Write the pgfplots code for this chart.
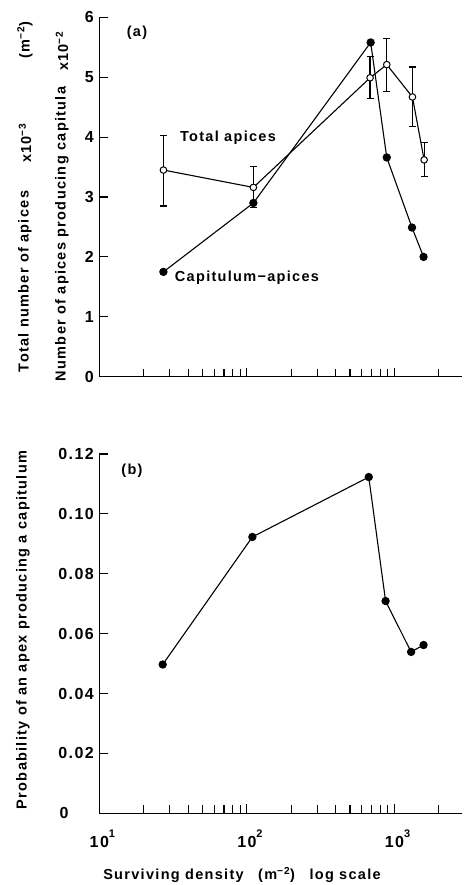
\documentclass[border=0pt]{standalone}
\usepackage{fontspec}
\setmainfont{Liberation Sans}[LetterSpace=9]
\usepackage{pgfplots}
\pgfplotsset{compat=1.18}
\newcommand{\mytf}{\fontsize{14.5}{17}\selectfont\bfseries}
\newcommand{\mynf}{\fontsize{16}{18}\selectfont\bfseries}
\newcommand{\ex}[1]{\raisebox{1.15ex}{\fontsize{11}{11}\selectfont #1}}
\begin{document}
\begin{tikzpicture}
\useasboundingbox (-99.3pt,376.7pt) rectangle (363.7pt,-508.3pt);
\begin{axis}[at={(0pt,0pt)}, anchor=south west,
  scale only axis, width=362.7pt, height=359.4pt,
  xmode=log, xmin=10, xmax=2870,
  axis x line=bottom, axis y line=left,
  axis line style={-, line width=1.3pt, black},
  tick align=inside, major tick length=9pt, minor tick length=8pt,
  tick style={black, line width=1.1pt},
  xtick={10,100,1000},
  minor xtick={20,30,40,50,60,70,80,90,200,300,400,500,600,700,800,900,2000},
  /pgf/number format/assume math mode=true,
  tick label style={font=\mynf},
  yticklabel shift=2pt,
  clip=false,
  ymin=0, ymax=6, ytick={0,1,2,3,4,5,6},
  xticklabels={,,},
]
\addplot[black, line width=1.1pt, mark=*, mark size=3.6pt, mark options={fill=black, solid}]
  coordinates {(27.2,1.75) (110.7,2.90) (690,5.58) (887,3.66) (1315,2.49) (1575,2.00)};
\addplot[black, line width=1.1pt, mark=*, mark size=3.3pt, mark options={fill=white, solid, line width=1pt},
  error bars/.cd, y dir=both, y explicit,
  error bar style={line width=1.2pt},
  error mark options={rotate=90, line width=1.2pt, mark size=3.5pt}]
  coordinates {
  (27.2,3.45) += (0,0.58) -= (0,0.60)
  (110.7,3.16) += (0,0.35) -= (0,0.34)
  (684,4.99) += (0,0.36) -= (0,0.34)
  (887,5.21) += (0,0.44) -= (0,0.45)
  (1324,4.67) += (0,0.50) -= (0,0.49)
  (1589,3.62) += (0,0.29) -= (0,0.28)
  };
\end{axis}
\begin{axis}[at={(0pt,-436.6pt)}, anchor=south west,
  scale only axis, width=362.7pt, height=359.3pt,
  xmode=log, xmin=10, xmax=2870,
  axis x line=bottom, axis y line=left,
  axis line style={-, line width=1.3pt, black},
  tick align=inside, major tick length=9pt, minor tick length=8pt,
  tick style={black, line width=1.1pt},
  xtick={10,100,1000},
  minor xtick={20,30,40,50,60,70,80,90,200,300,400,500,600,700,800,900,2000},
  /pgf/number format/assume math mode=true,
  tick label style={font=\mynf},
  yticklabel shift=2pt,
  clip=false,
  ymin=0, ymax=0.12, ytick={0,0.02,0.04,0.06,0.08,0.10,0.12},
  yticklabels={0\phantom{.00},0.02,0.04,0.06,0.08,0.10,0.12},
  xticklabels={,,},
]
\addplot[black, line width=1.1pt, mark=*, mark size=3.6pt, mark options={fill=black, solid}]
  coordinates {(26.9,0.0497) (109,0.0923) (670,0.1123) (871,0.0709) (1297,0.0539) (1575,0.0562)};
\node[font=\mynf, anchor=base, yshift=-34pt] at (10,0) {10\rlap{\ex{1}}};
\node[font=\mynf, anchor=base, yshift=-34pt] at (100,0) {10\rlap{\ex{2}}};
\node[font=\mynf, anchor=base, yshift=-34pt] at (1000,0) {10\rlap{\ex{3}}};
\end{axis}
\node[font=\mytf] at (37.7pt,343.7pt) {(a)};
\node[font=\mytf] at (128.7pt,239pt) {Total apices};
\node[font=\mytf] at (147.7pt,99pt) {Capitulum−apices};
\node[font=\mytf] at (32.7pt,-94pt) {(b)};
\node[font=\mytf, rotate=90] at (-74.3pt,95.2pt) {Total number of apices};
\node[font=\mytf, rotate=90] at (-74.3pt,233.7pt) {x10\textsuperscript{−3}};
\node[font=\mytf, rotate=90] at (-74.3pt,336.7pt) {(m\textsuperscript{−2})};
\node[font=\mytf, rotate=90] at (-37.3pt,142.7pt) {Number of apices producing capitula};
\node[font=\mytf, rotate=90] at (-37.3pt,325.7pt) {x10\textsuperscript{−2}};
\node[font=\mytf, rotate=90] at (-76.3pt,-253.3pt) {Probability of an apex producing a capitulum};
\node[font=\mytf] at (142.7pt,-498.3pt) {Surviving density\quad(m\textsuperscript{−2})\quad log scale};
\end{tikzpicture}
\end{document}
